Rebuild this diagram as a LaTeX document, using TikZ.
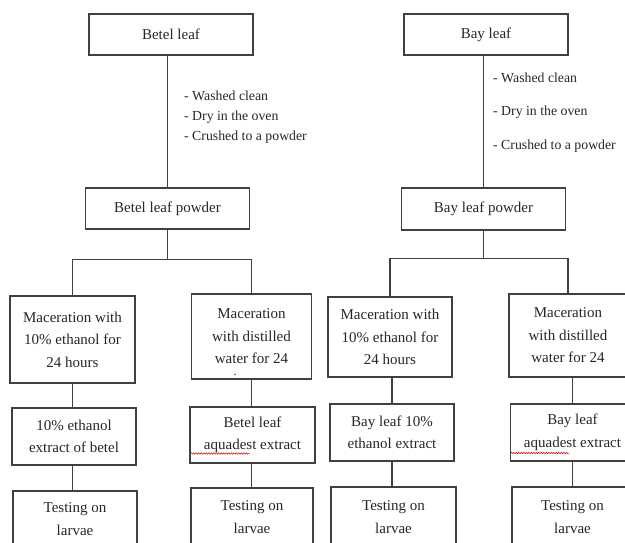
\documentclass[tikz,border=0pt]{standalone}
\usepackage{fontspec}
\setmainfont{Liberation Serif}
\usetikzlibrary{decorations.pathmorphing}
\begin{document}
\begin{tikzpicture}[x=1pt,y=-1pt,
 box/.style={draw=black!75, line width=1.1pt, rectangle, inner sep=0pt, align=center, font=\fontsize{15}{22.5}\selectfont, text=black!85},
 conn/.style={draw=black!75, line width=1.1pt},
 steps/.style={anchor=west, align=left, inner sep=0pt, text=black!85},
 squig/.style={draw=red!80!black, line width=0.5pt, decorate, decoration={snake, amplitude=0.7pt, segment length=2.5pt}}]
\useasboundingbox (0,0) rectangle (625,542);
\clip (0,0) rectangle (625,542);
% top
\node[box, minimum width=164pt, minimum height=41pt] (betel) at (171,34.5) {Betel leaf};
\node[box, minimum width=164pt, minimum height=41pt] (bay) at (486,34.5) {Bay leaf};
\node[box, minimum width=164pt, minimum height=41pt] (bp) at (167.5,208.5) {Betel leaf powder};
\node[box, minimum width=164pt, minimum height=42pt] (yp) at (483.5,209) {Bay leaf powder};
\node[steps, font=\fontsize{13.8}{20}\selectfont] (s1) at (184,117) {- Washed clean\\- Dry in the oven\\- Crushed to a powder};
\node[steps, font=\fontsize{13.8}{33.5}\selectfont] (s2) at (493,112.5) {- Washed clean\\- Dry in the oven\\- Crushed to a powder};
% maceration
\node[box, minimum width=125pt, minimum height=87pt] (m1) at (72.5,339.5) {Maceration with\\10\% ethanol for\\24 hours};
\node[box, minimum width=120pt, minimum height=85pt] (m2) at (251.5,336.5) {Maceration\\with distilled\\water for 24};
\node[inner sep=0pt, font=\fontsize{12}{12}\selectfont, text=black!85] (dot) at (235,374.5) {.};
\node[box, minimum width=124pt, minimum height=80pt] (m3) at (390,337) {Maceration with\\10\% ethanol for\\24 hours};
\node[box, minimum width=118pt, minimum height=83pt] (m4) at (568,335.5) {Maceration\\with distilled\\water for 24};
% extracts
\node[box, minimum width=124pt, minimum height=57pt] (e1) at (74,436.5) {10\% ethanol\\extract of betel};
\node[box, minimum width=125pt, minimum height=56pt] (e2) at (252.5,435) {Betel leaf\\aquadest extract};
\node[box, minimum width=124pt, minimum height=57pt] (e3) at (392,432.5) {Bay leaf 10\%\\ethanol extract};
\node[box, minimum width=124pt, minimum height=57pt] (e4) at (572.5,432.5) {Bay leaf\\aquadest extract};
% testing
\node[box, minimum width=124pt, minimum height=56pt] (t1) at (75,519) {Testing on\\larvae};
\node[box, minimum width=122pt, minimum height=58pt] (t2) at (252,517) {Testing on\\larvae};
\node[box, minimum width=125pt, minimum height=60pt] (t3) at (393.5,517) {Testing on\\larvae};
\node[box, minimum width=121pt, minimum height=60pt] (t4) at (572.5,517) {Testing on\\larvae};
% connectors
\draw[conn] (bp.north) -- (bp.north |- betel.south);
\draw[conn] (yp.north) -- (yp.north |- bay.south);
\coordinate (j1) at ([yshift=-30pt]bp.south);
\coordinate (j2) at ([yshift=-28pt]yp.south);
\draw[conn] (bp.south) -- (j1);
\draw[conn] (m1.north) |- (j1) -| (m2.north);
\draw[conn] (yp.south) -- (j2);
\draw[conn] (m3.north) |- (j2) -| (m4.north);
\draw[conn] (m1.south) -- (m1.south |- e1.north);
\draw[conn] (m1.south |- e1.south) -- (m1.south |- t1.north);
\draw[conn] (e2.north -| m2.south) -- (m2.south);
\draw[conn] (e2.south -| m2.south) -- (t2.north -| m2.south);
\draw[conn] (e3.north) -- (e3.north |- m3.south);
\draw[conn] (e3.south) -- (e3.south |- t3.north);
\draw[conn] (e4.north) -- (e4.north |- m4.south);
\draw[conn] (e4.south) -- (t4.north);
% spell-check underlines
\draw[squig] ([xshift=-62pt,yshift=-18.5pt]e2.center) -- ([xshift=-3pt,yshift=-18.5pt]e2.center);
\draw[squig] ([xshift=-62pt,yshift=-20.5pt]e4.center) -- ([xshift=-3pt,yshift=-20.5pt]e4.center);
\end{tikzpicture}
\end{document}
